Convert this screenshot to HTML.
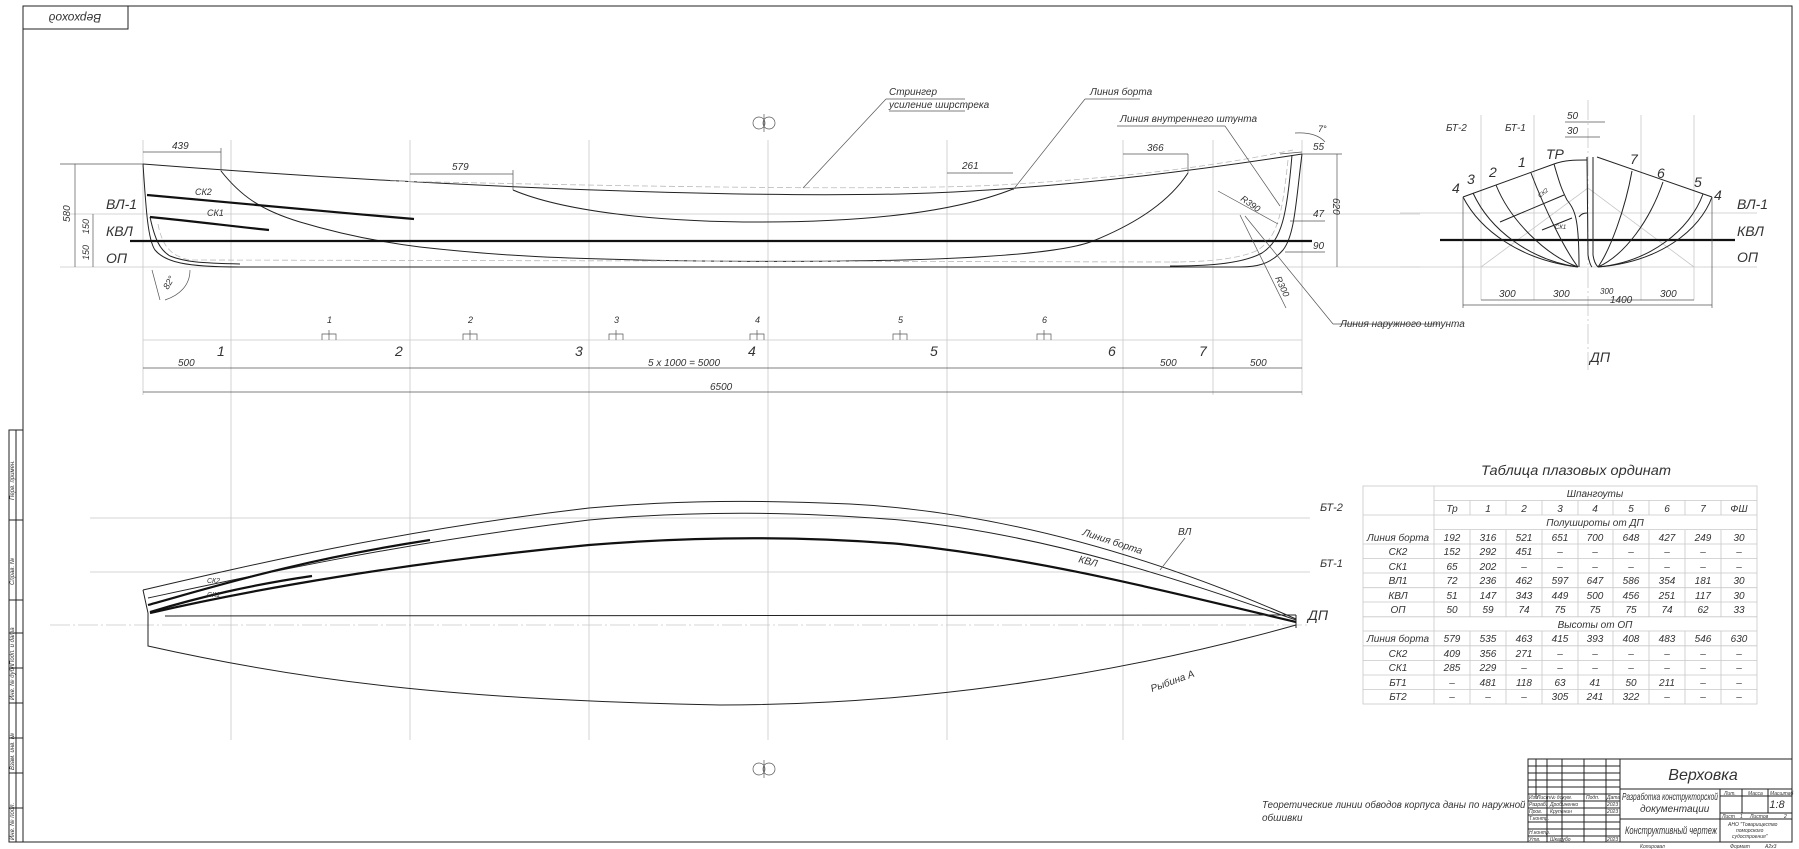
<!DOCTYPE html>
<html><head><meta charset="utf-8"><style>
html,body{margin:0;padding:0;background:#fff}
svg{display:block}
text{font-family:"Liberation Sans","DejaVu Sans",sans-serif;font-style:italic;fill:#333}
.t{stroke:#222;stroke-width:1;fill:none}
.k{stroke:#111;stroke-width:2.2;fill:none}
.g{stroke:#c8c8c8;stroke-width:0.8;fill:none}
.d{stroke:#bbb;stroke-width:0.8;fill:none;stroke-dasharray:6 3}
.m{stroke:#555;stroke-width:0.7;fill:none}
</style></head><body>
<svg width="1799" height="849" viewBox="0 0 1799 849" xmlns="http://www.w3.org/2000/svg">
<!-- frame -->
<rect x="23" y="6" width="1769" height="836" class="t" stroke-width="1.4"/>
<rect x="23" y="6" width="105" height="23" class="t"/>
<text x="75" y="22" font-size="12" text-anchor="middle" transform="rotate(180 75 18)">Верхоход</text>
<!-- left stamp -->
<g class="t" stroke-width="0.8">
<rect x="9" y="430" width="14" height="412"/><rect x="16" y="430" width="7" height="412"/>
<line x1="9" y1="520" x2="23" y2="520"/><line x1="9" y1="600" x2="23" y2="600"/>
<line x1="9" y1="633" x2="23" y2="633"/><line x1="9" y1="668" x2="23" y2="668"/>
<line x1="9" y1="703" x2="23" y2="703"/><line x1="9" y1="738" x2="23" y2="738"/>
<line x1="9" y1="773" x2="23" y2="773"/><line x1="9" y1="808" x2="23" y2="808"/>
</g>
<g font-size="6">
<text transform="translate(14 500) rotate(-90)">Перв. примен.</text>
<text transform="translate(14 585) rotate(-90)">Справ. №</text>
<text transform="translate(14 665) rotate(-90)">Подп. и дата</text>
<text transform="translate(14 700) rotate(-90)">Инв. № дубл.</text>
<text transform="translate(14 770) rotate(-90)">Взам. инв. №</text>
<text transform="translate(14 840) rotate(-90)">Инв. № подл.</text>
</g>

<!-- station grid lines -->
<g class="g">
<line x1="143" y1="140" x2="143" y2="395"/>
<line x1="231" y1="140" x2="231" y2="740"/><line x1="410" y1="140" x2="410" y2="740"/>
<line x1="589" y1="140" x2="589" y2="740"/><line x1="768" y1="140" x2="768" y2="740"/>
<line x1="947" y1="140" x2="947" y2="740"/><line x1="1123" y1="140" x2="1123" y2="740"/>
<line x1="1213" y1="140" x2="1213" y2="395"/><line x1="1302" y1="140" x2="1302" y2="395"/>
<line x1="70" y1="214" x2="1420" y2="214"/><line x1="60" y1="267" x2="1420" y2="267"/>
<line x1="90" y1="518" x2="1310" y2="518"/><line x1="90" y1="572" x2="1310" y2="572"/>
<line x1="50" y1="625" x2="1310" y2="625" stroke-dasharray="20 3 2 3"/>
<line x1="143" y1="340" x2="1302" y2="340"/>
</g>

<!-- SIDE VIEW -->
<path class="t" d="M143,164 C400,184 700,198 900,194 C1050,190 1200,170 1302,154"/>
<path class="d" d="M390,181 C700,188 900,190 1000,185 C1150,176 1230,163 1293,150"/>
<path class="t" d="M513,190 C560,210 650,222 760,222 C880,222 960,210 1013,189"/>
<path class="t" d="M221,171 C240,195 260,210 300,222 C340,234 380,242 420,247 C500,256 560,259 700,261 C900,263 1050,258 1093,241 C1140,222 1170,200 1188,173"/>
<path class="t" d="M143,164 C146,210 148,240 155,250 C165,262 185,267 240,267 L1240,267"/>
<path class="t" d="M150,217 C155,240 160,250 170,256 C185,262 200,263 240,264"/>
<path class="d" d="M158,224 C162,245 170,256 190,260 L1180,262"/>
<path class="t" d="M1302,154 C1296,200 1295,235 1283,250 C1270,265 1255,267 1240,267"/>
<path class="t" d="M1292,155 C1287,215 1282,240 1262,253 C1240,265 1200,266 1170,266"/>
<path class="d" d="M1288,160 C1282,215 1278,236 1258,250 C1238,260 1200,262 1170,262"/>
<path class="k" stroke-width="1.8" d="M147,195 C260,205 330,212 414,219"/>
<path class="k" stroke-width="1.8" d="M150,217 C200,222 230,226 269,230"/>
<line class="k" x1="130" y1="241" x2="1312" y2="241"/>
<text x="195" y="195" font-size="9">СК2</text>
<text x="207" y="216" font-size="9">СК1</text>
<!-- left dims -->
<g class="m"><line x1="60" y1="164" x2="143" y2="164"/><line x1="75" y1="164" x2="75" y2="267"/>
<line x1="93" y1="214" x2="93" y2="267"/></g>
<text transform="translate(70 222) rotate(-90)" font-size="10">580</text>
<text transform="translate(89 234) rotate(-90)" font-size="9">150</text>
<text transform="translate(89 260) rotate(-90)" font-size="9">150</text>
<text x="106" y="209" font-size="14">ВЛ-1</text>
<text x="106" y="236" font-size="14">КВЛ</text>
<text x="106" y="263" font-size="14">ОП</text>
<path class="m" d="M152,270 L160,300 M190,270 C190,285 180,295 165,300"/>
<text transform="translate(168 290) rotate(-60)" font-size="9">82°</text>
<!-- top dims -->
<g class="m"><line x1="143" y1="152" x2="221" y2="152"/><line x1="221" y1="148" x2="221" y2="171"/>
<line x1="410" y1="174" x2="513" y2="174"/><line x1="513" y1="170" x2="513" y2="190"/>
<line x1="947" y1="173" x2="1013" y2="173"/><line x1="1123" y1="154" x2="1188" y2="154"/>
<line x1="1188" y1="154" x2="1188" y2="173"/><line x1="1337" y1="154" x2="1337" y2="267"/>
<line x1="1302" y1="154" x2="1342" y2="154"/><line x1="1280" y1="154" x2="1302" y2="152"/>
<line x1="1290" y1="221" x2="1325" y2="221"/><line x1="1285" y1="252" x2="1325" y2="252"/>
</g>
<text x="172" y="149" font-size="10">439</text>
<text x="452" y="170" font-size="10">579</text>
<text x="962" y="169" font-size="10">261</text>
<text x="1147" y="151" font-size="10">366</text>
<text x="1313" y="150" font-size="10">55</text>
<text x="1313" y="217" font-size="10">47</text>
<text x="1313" y="249" font-size="10">90</text>
<text transform="translate(1333 198) rotate(90)" font-size="10">620</text>
<path class="m" d="M1295,133 C1310,132 1320,136 1325,142"/>
<text x="1318" y="132" font-size="9">7°</text>
<!-- leaders -->
<g class="m">
<line x1="886" y1="99" x2="803" y2="188"/><line x1="886" y1="99" x2="965" y2="99"/>
<line x1="889" y1="111" x2="965" y2="111"/>
<line x1="1085" y1="99" x2="1013" y2="190"/><line x1="1085" y1="99" x2="1140" y2="99"/>
<line x1="1117" y1="126" x2="1225" y2="126"/><line x1="1225" y1="126" x2="1280" y2="206"/>
<line x1="1218" y1="191" x2="1278" y2="224"/><line x1="1240" y1="215" x2="1286" y2="308"/>
<line x1="1245" y1="216" x2="1333" y2="324"/><line x1="1333" y1="324" x2="1440" y2="324"/>
</g>
<text x="889" y="95" font-size="10">Стрингер</text>
<text x="889" y="108" font-size="10">усиление ширстрека</text>
<text x="1090" y="95" font-size="10">Линия борта</text>
<text x="1120" y="122" font-size="10">Линия внутреннего штунта</text>
<text x="1340" y="327" font-size="10">Линия наружного штунта</text>
<text transform="translate(1240 200) rotate(35)" font-size="9">R390</text>
<text transform="translate(1275 278) rotate(65)" font-size="9">R300</text>
<!-- symbol -->
<g class="m"><circle cx="759" cy="123" r="6"/><circle cx="769" cy="123" r="6"/><line x1="764" y1="114" x2="764" y2="132"/>
<circle cx="759" cy="769" r="6"/><circle cx="769" cy="769" r="6"/><line x1="764" y1="760" x2="764" y2="778"/></g>

<!-- station marks & dims -->
<g class="m">
<path d="M329,340 v-10 M322,340 v-6 h14 v6"/><path d="M470,340 v-10 M463,340 v-6 h14 v6"/>
<path d="M616,340 v-10 M609,340 v-6 h14 v6"/><path d="M757,340 v-10 M750,340 v-6 h14 v6"/>
<path d="M900,340 v-10 M893,340 v-6 h14 v6"/><path d="M1044,340 v-10 M1037,340 v-6 h14 v6"/>
<line x1="143" y1="368" x2="1302" y2="368"/><line x1="143" y1="392" x2="1302" y2="392"/>
</g>
<g font-size="9"><text x="327" y="323">1</text><text x="468" y="323">2</text><text x="614" y="323">3</text>
<text x="755" y="323">4</text><text x="898" y="323">5</text><text x="1042" y="323">6</text></g>
<g font-size="14"><text x="217" y="356">1</text><text x="395" y="356">2</text><text x="575" y="356">3</text>
<text x="748" y="356">4</text><text x="930" y="356">5</text><text x="1108" y="356">6</text><text x="1199" y="356">7</text></g>
<g font-size="10"><text x="178" y="366">500</text><text x="648" y="366">5 x 1000 = 5000</text>
<text x="1160" y="366">500</text><text x="1250" y="366">500</text><text x="710" y="390">6500</text></g>

<!-- PLAN VIEW -->
<path class="t" d="M143,590 C250,565 400,530 589,508 C680,500 760,500 850,504 C1000,512 1150,555 1296,619"/>
<path class="t" d="M148,598 C260,574 400,543 589,520 C700,510 800,512 900,520 C1050,535 1180,580 1296,620"/>
<path class="k" stroke-width="2" d="M150,613 C250,590 400,563 589,545 C700,536 800,536 900,544 C1050,560 1180,595 1296,622"/>
<path class="k" stroke-width="1.8" d="M150,612 C200,597 250,585 312,576"/>
<path class="k" stroke-width="1.8" d="M148,605 C220,585 300,560 430,540"/>
<path class="t" d="M165,616 L1296,615"/>
<path class="t" d="M143,590 L148,613 L148,646 C300,680 450,700 720,705 C900,705 1100,680 1296,625"/>
<line class="t" x1="1296" y1="615" x2="1296" y2="628"/>
<text x="207" y="583" font-size="7">СК2</text><text x="207" y="597" font-size="7">СК1</text>
<text transform="translate(1082 535) rotate(18)" font-size="10">Линия борта</text>
<text x="1178" y="535" font-size="10">ВЛ</text>
<line class="m" x1="1185" y1="538" x2="1160" y2="570"/>
<text transform="translate(1078 562) rotate(15)" font-size="10">КВЛ</text>
<text transform="translate(1152 692) rotate(-20)" font-size="10">Рыбина А</text>
<text x="1320" y="511" font-size="11">БТ-2</text>
<text x="1320" y="567" font-size="11">БТ-1</text>
<text x="1308" y="620" font-size="14">ДП</text>

<!-- BODY PLAN -->
<g class="g">
<line x1="1481" y1="115" x2="1481" y2="300"/><line x1="1534" y1="115" x2="1534" y2="300"/>
<line x1="1641" y1="115" x2="1641" y2="300"/><line x1="1694" y1="115" x2="1694" y2="300"/>
<line x1="1588" y1="100" x2="1588" y2="370" stroke-dasharray="20 3 2 3"/>
<line x1="1400" y1="213" x2="1757" y2="213"/><line x1="1400" y1="267" x2="1757" y2="267"/>
<path d="M1481,267 L1588,188 L1694,267"/>
</g>
<line class="k" x1="1440" y1="240" x2="1735" y2="240"/>
<path class="t" d="M1463,197 L1554,164 C1565,160 1575,160 1587,160"/>
<path class="t" d="M1597,157 L1712,197"/>
<path class="t" d="M1463,197 C1480,230 1520,260 1578,267"/>
<path class="t" d="M1473,193 C1490,230 1530,260 1578,267"/>
<path class="t" d="M1496,185 C1510,220 1545,255 1578,267"/>
<path class="t" d="M1531,173 C1545,210 1565,250 1578,267"/>
<path class="t" d="M1554,164 C1560,185 1562,190 1567,200 C1575,210 1579,218 1579,267"/>
<path class="t" d="M1579,217 C1581,214 1584,213 1587,213"/>
<path class="t" d="M1500,222 L1564,195"/><path class="t" d="M1542,230 L1572,218"/>
<path class="t" d="M1712,197 C1700,230 1660,262 1598,267"/>
<path class="t" d="M1703,194 C1690,230 1650,262 1598,267"/>
<path class="t" d="M1663,182 C1650,220 1625,255 1598,267"/>
<path class="t" d="M1632,171 C1625,210 1610,250 1598,267"/>
<path class="t" d="M1587,157 L1588,255 C1589,262 1591,266 1592,267 M1593,157 L1593,255 C1594,262 1596,265 1598,267"/>
<text x="1540" y="198" font-size="6" transform="rotate(-40 1540 198)">СК2</text>
<text x="1555" y="229" font-size="6">СК1</text>
<g font-size="14"><text x="1452" y="193">4</text><text x="1467" y="184">3</text><text x="1489" y="177">2</text>
<text x="1518" y="167">1</text><text x="1546" y="159">ТР</text><text x="1630" y="164">7</text>
<text x="1657" y="178">6</text><text x="1694" y="187">5</text><text x="1714" y="200">4</text>
<text x="1737" y="209">ВЛ-1</text><text x="1737" y="236">КВЛ</text><text x="1737" y="262">ОП</text>
<text x="1590" y="362">ДП</text></g>
<g font-size="10"><text x="1446" y="131">БТ-2</text><text x="1505" y="131">БТ-1</text>
<text x="1567" y="119">50</text><text x="1567" y="134">30</text></g>
<g class="m"><line x1="1565" y1="122" x2="1605" y2="122"/><line x1="1565" y1="137" x2="1600" y2="137"/>
<line x1="1463" y1="305" x2="1712" y2="305"/><line x1="1463" y1="197" x2="1463" y2="308"/><line x1="1712" y1="197" x2="1712" y2="308"/>
<line x1="1481" y1="300" x2="1694" y2="300"/></g>
<g font-size="10"><text x="1499" y="297">300</text><text x="1553" y="297">300</text><text x="1600" y="294" font-size="8">300</text>
<text x="1610" y="303">1400</text><text x="1660" y="297">300</text></g>

<!-- TABLE -->
<text x="1481" y="475" font-size="14" textLength="190" lengthAdjust="spacingAndGlyphs">Таблица плазовых ординат</text>
<g class="g" stroke="#aaa">
<rect x="1363" y="486" width="394" height="218"/>
<line x1="1434" y1="486" x2="1434" y2="704"/>
<line x1="1434" y1="500.5" x2="1757" y2="500.5"/><line x1="1363" y1="515" x2="1757" y2="515"/>
<line x1="1434" y1="529.6" x2="1757" y2="529.6"/>
<line x1="1363" y1="544" x2="1757" y2="544"/><line x1="1363" y1="558.6" x2="1757" y2="558.6"/>
<line x1="1363" y1="573" x2="1757" y2="573"/><line x1="1363" y1="587.7" x2="1757" y2="587.7"/>
<line x1="1363" y1="602" x2="1757" y2="602"/><line x1="1363" y1="616.8" x2="1434" y2="616.8"/>
<line x1="1363" y1="631" x2="1757" y2="631"/><line x1="1434" y1="616.8" x2="1757" y2="616.8"/>
<line x1="1363" y1="645.8" x2="1757" y2="645.8"/><line x1="1363" y1="660.4" x2="1757" y2="660.4"/>
<line x1="1363" y1="675" x2="1757" y2="675"/><line x1="1363" y1="689.4" x2="1757" y2="689.4"/>
</g>
<g class="g" stroke="#aaa">
<path d="M1470,500.5V515 M1506,500.5V515 M1542,500.5V515 M1578,500.5V515 M1613,500.5V515 M1649,500.5V515 M1685,500.5V515 M1721,500.5V515"/>
<path d="M1470,529.6V616.8 M1506,529.6V616.8 M1542,529.6V616.8 M1578,529.6V616.8 M1613,529.6V616.8 M1649,529.6V616.8 M1685,529.6V616.8 M1721,529.6V616.8"/>
<path d="M1470,631V704 M1506,631V704 M1542,631V704 M1578,631V704 M1613,631V704 M1649,631V704 M1685,631V704 M1721,631V704"/>
</g>
<g font-size="10" text-anchor="middle">
<text x="1595" y="497">Шпангоуты</text>
<text x="1452" y="512">Тр</text><text x="1488" y="512">1</text><text x="1524" y="512">2</text><text x="1560" y="512">3</text><text x="1595" y="512">4</text><text x="1631" y="512">5</text><text x="1667" y="512">6</text><text x="1703" y="512">7</text><text x="1739" y="512">ФШ</text>
<text x="1595" y="526">Полушироты от ДП</text>
<text x="1398" y="541">Линия борта</text><text x="1452" y="541">192</text><text x="1488" y="541">316</text><text x="1524" y="541">521</text><text x="1560" y="541">651</text><text x="1595" y="541">700</text><text x="1631" y="541">648</text><text x="1667" y="541">427</text><text x="1703" y="541">249</text><text x="1739" y="541">30</text>
<text x="1398" y="555">СК2</text><text x="1452" y="555">152</text><text x="1488" y="555">292</text><text x="1524" y="555">451</text><text x="1560" y="555">–</text><text x="1595" y="555">–</text><text x="1631" y="555">–</text><text x="1667" y="555">–</text><text x="1703" y="555">–</text><text x="1739" y="555">–</text>
<text x="1398" y="570">СК1</text><text x="1452" y="570">65</text><text x="1488" y="570">202</text><text x="1524" y="570">–</text><text x="1560" y="570">–</text><text x="1595" y="570">–</text><text x="1631" y="570">–</text><text x="1667" y="570">–</text><text x="1703" y="570">–</text><text x="1739" y="570">–</text>
<text x="1398" y="584">ВЛ1</text><text x="1452" y="584">72</text><text x="1488" y="584">236</text><text x="1524" y="584">462</text><text x="1560" y="584">597</text><text x="1595" y="584">647</text><text x="1631" y="584">586</text><text x="1667" y="584">354</text><text x="1703" y="584">181</text><text x="1739" y="584">30</text>
<text x="1398" y="599">КВЛ</text><text x="1452" y="599">51</text><text x="1488" y="599">147</text><text x="1524" y="599">343</text><text x="1560" y="599">449</text><text x="1595" y="599">500</text><text x="1631" y="599">456</text><text x="1667" y="599">251</text><text x="1703" y="599">117</text><text x="1739" y="599">30</text>
<text x="1398" y="613">ОП</text><text x="1452" y="613">50</text><text x="1488" y="613">59</text><text x="1524" y="613">74</text><text x="1560" y="613">75</text><text x="1595" y="613">75</text><text x="1631" y="613">75</text><text x="1667" y="613">74</text><text x="1703" y="613">62</text><text x="1739" y="613">33</text>
<text x="1595" y="628">Высоты от ОП</text>
<text x="1398" y="642">Линия борта</text><text x="1452" y="642">579</text><text x="1488" y="642">535</text><text x="1524" y="642">463</text><text x="1560" y="642">415</text><text x="1595" y="642">393</text><text x="1631" y="642">408</text><text x="1667" y="642">483</text><text x="1703" y="642">546</text><text x="1739" y="642">630</text>
<text x="1398" y="657">СК2</text><text x="1452" y="657">409</text><text x="1488" y="657">356</text><text x="1524" y="657">271</text><text x="1560" y="657">–</text><text x="1595" y="657">–</text><text x="1631" y="657">–</text><text x="1667" y="657">–</text><text x="1703" y="657">–</text><text x="1739" y="657">–</text>
<text x="1398" y="671">СК1</text><text x="1452" y="671">285</text><text x="1488" y="671">229</text><text x="1524" y="671">–</text><text x="1560" y="671">–</text><text x="1595" y="671">–</text><text x="1631" y="671">–</text><text x="1667" y="671">–</text><text x="1703" y="671">–</text><text x="1739" y="671">–</text>
<text x="1398" y="686">БТ1</text><text x="1452" y="686">–</text><text x="1488" y="686">481</text><text x="1524" y="686">118</text><text x="1560" y="686">63</text><text x="1595" y="686">41</text><text x="1631" y="686">50</text><text x="1667" y="686">211</text><text x="1703" y="686">–</text><text x="1739" y="686">–</text>
<text x="1398" y="700">БТ2</text><text x="1452" y="700">–</text><text x="1488" y="700">–</text><text x="1524" y="700">–</text><text x="1560" y="700">305</text><text x="1595" y="700">241</text><text x="1631" y="700">322</text><text x="1667" y="700">–</text><text x="1703" y="700">–</text><text x="1739" y="700">–</text>
</g>

<!-- note -->
<text x="1262" y="808" font-size="10" textLength="298" lengthAdjust="spacingAndGlyphs">Теоретические линии обводов корпуса даны по наружной кромке</text>
<text x="1262" y="821" font-size="10">обшивки</text>

<!-- TITLE BLOCK -->
<rect x="1528" y="759" width="264" height="83" fill="#fff"/>
<g class="t" stroke-width="1.2">
<rect x="1528" y="759" width="264" height="83"/>
<line x1="1620" y1="759" x2="1620" y2="842"/>
<line x1="1620" y1="789" x2="1792" y2="789"/><line x1="1620" y1="819" x2="1792" y2="819"/>
<line x1="1720" y1="789" x2="1720" y2="842"/>
</g>
<g class="t" stroke-width="0.6">
<line x1="1536" y1="759" x2="1536" y2="797"/><line x1="1547" y1="759" x2="1547" y2="842"/>
<line x1="1562" y1="759" x2="1562" y2="842"/><line x1="1584" y1="759" x2="1584" y2="842"/>
<line x1="1606" y1="759" x2="1606" y2="842"/>
<line x1="1528" y1="766" x2="1620" y2="766"/><line x1="1528" y1="773" x2="1620" y2="773"/>
<line x1="1528" y1="780" x2="1620" y2="780"/><line x1="1528" y1="787" x2="1620" y2="787"/>
<line x1="1528" y1="794" x2="1620" y2="794"/><line x1="1528" y1="801" x2="1620" y2="801"/>
<line x1="1528" y1="808" x2="1620" y2="808"/><line x1="1528" y1="815" x2="1620" y2="815"/>
<line x1="1528" y1="822" x2="1620" y2="822"/><line x1="1528" y1="829" x2="1620" y2="829"/>
<line x1="1528" y1="836" x2="1620" y2="836"/>
<line x1="1720" y1="796" x2="1792" y2="796"/><line x1="1720" y1="813" x2="1792" y2="813"/>
<line x1="1742" y1="789" x2="1742" y2="813"/><line x1="1768" y1="789" x2="1768" y2="813"/>
</g>
<g font-size="5">
<text x="1529" y="799">Изм</text><text x="1537" y="799">Лист</text><text x="1550" y="799">№ докум.</text><text x="1586" y="799">Подп.</text><text x="1607" y="799">Дата</text>
<text x="1529" y="806">Разраб.</text><text x="1550" y="806">Дробиненко</text><text x="1607" y="806">2023</text>
<text x="1529" y="813">Пров.</text><text x="1550" y="813">Крупенин</text><text x="1607" y="813">2023</text>
<text x="1529" y="820">Т.контр.</text><text x="1529" y="834">Н.контр.</text>
<text x="1529" y="841">Утв.</text><text x="1550" y="841">Шкарубо</text><text x="1607" y="841">2023</text>
<text x="1724" y="795">Лит.</text><text x="1748" y="795">Масса</text><text x="1770" y="795">Масштаб</text>
<text x="1722" y="818">Лист</text><text x="1740" y="818">1</text><text x="1750" y="818">Листов</text><text x="1784" y="818">2</text>
<text x="1728" y="826">АНО "Товарищество</text><text x="1736" y="832">поморского</text><text x="1732" y="838">судостроения"</text>
<text x="1640" y="848">Копировал</text><text x="1730" y="848">Формат</text><text x="1765" y="848">А2х3</text>
</g>
<text x="1703" y="780" font-size="16" text-anchor="middle">Верховка</text>
<text x="1622" y="800" font-size="10" textLength="96" lengthAdjust="spacingAndGlyphs">Разработка конструкторской</text>
<text x="1640" y="812" font-size="10">документации</text>
<text x="1777" y="808" font-size="11" text-anchor="middle">1:8</text>
<text x="1625" y="834" font-size="11" textLength="92" lengthAdjust="spacingAndGlyphs">Конструктивный чертеж</text>
</svg>
</body></html>
